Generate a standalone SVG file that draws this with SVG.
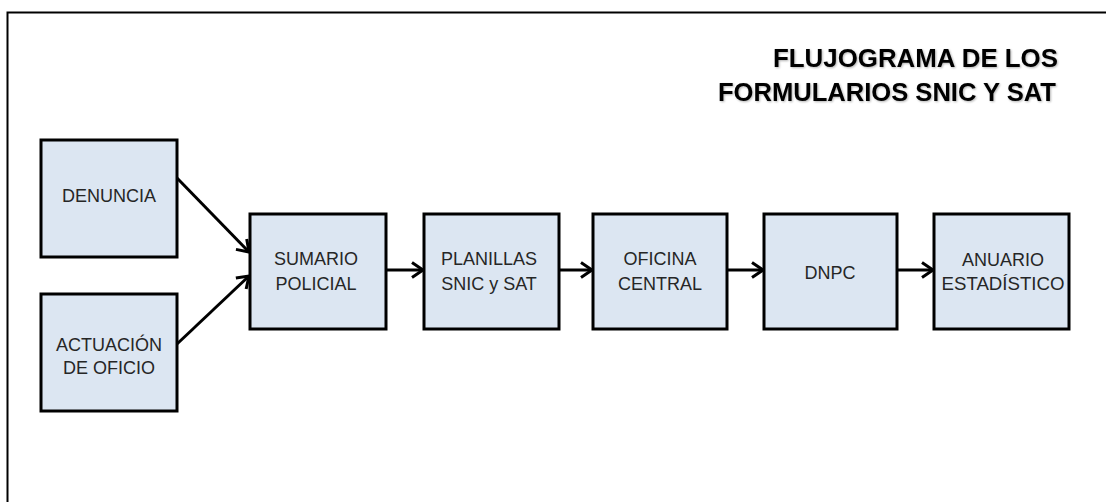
<svg xmlns="http://www.w3.org/2000/svg" width="1106" height="502" viewBox="0 0 1106 502">
<defs>
<style>
.box{fill:#dce6f2;stroke:#000;stroke-width:3}
.lbl{font-family:"Liberation Sans",Arial,sans-serif;font-size:18px;fill:#262626;text-anchor:middle}
.ttl{font-family:"Liberation Sans",Arial,sans-serif;font-size:25px;font-weight:bold;fill:#000;text-anchor:end}
.conn{stroke:#000;stroke-width:3;fill:none;marker-end:url(#arr)}
</style>
<marker id="arr" markerUnits="userSpaceOnUse" markerWidth="20" markerHeight="20" refX="12" refY="8" orient="auto" viewBox="0 0 20 16">
<path d="M1,0.5 L12,8 L1,15.5" fill="none" stroke="#000" stroke-width="3"/>
</marker>
<filter id="sh" x="-5%" y="-20%" width="110%" height="140%">
<feGaussianBlur in="SourceAlpha" stdDeviation="1"/>
<feOffset dx="1" dy="1" result="o"/>
<feComponentTransfer><feFuncA type="linear" slope="0.3"/></feComponentTransfer>
<feMerge><feMergeNode/><feMergeNode in="SourceGraphic"/></feMerge>
</filter>
</defs>
<rect x="0" y="0" width="1106" height="502" fill="#fff"/>
<path d="M7.5,502 L7.5,12.5 L1106,12.5" fill="none" stroke="#000" stroke-width="2"/>
<g id="title" filter="url(#sh)">
<text class="ttl" x="1058" y="67" textLength="285" lengthAdjust="spacingAndGlyphs">FLUJOGRAMA DE LOS</text>
<text class="ttl" x="1056" y="101" textLength="338" lengthAdjust="spacingAndGlyphs">FORMULARIOS SNIC Y SAT</text>
</g>
<g id="connectors">
<line class="conn" x1="177" y1="178" x2="249" y2="252"/>
<line class="conn" x1="177" y1="344" x2="249" y2="276"/>
<line class="conn" x1="386" y1="270" x2="423" y2="270"/>
<line class="conn" x1="559" y1="270" x2="592" y2="270"/>
<line class="conn" x1="727" y1="270" x2="763" y2="270"/>
<line class="conn" x1="897" y1="270" x2="933" y2="270"/>
</g>
<g id="denuncia">
<rect class="box" x="41" y="140" width="136" height="117"/>
<text class="lbl" x="109" y="202">DENUNCIA</text>
</g>
<g id="actuacion">
<rect class="box" x="41" y="294" width="136" height="117"/>
<text class="lbl" x="109" y="351">ACTUACIÓN</text>
<text class="lbl" x="109" y="374">DE OFICIO</text>
</g>
<g id="sumario">
<rect class="box" x="250" y="214" width="136" height="115"/>
<text class="lbl" x="316" y="265">SUMARIO</text>
<text class="lbl" x="316" y="290">POLICIAL</text>
</g>
<g id="planillas">
<rect class="box" x="424" y="214" width="135" height="115"/>
<text class="lbl" x="489" y="265">PLANILLAS</text>
<text class="lbl" x="489" y="290">SNIC y SAT</text>
</g>
<g id="oficina">
<rect class="box" x="593" y="214" width="134" height="115"/>
<text class="lbl" x="660" y="265">OFICINA</text>
<text class="lbl" x="660" y="290">CENTRAL</text>
</g>
<g id="dnpc">
<rect class="box" x="764" y="214" width="133" height="115"/>
<text class="lbl" x="830" y="279">DNPC</text>
</g>
<g id="anuario">
<rect class="box" x="934" y="214" width="135" height="115"/>
<text class="lbl" x="1003" y="266">ANUARIO</text>
<text class="lbl" x="1003" y="290" textLength="123" lengthAdjust="spacingAndGlyphs">ESTADÍSTICO</text>
</g>
</svg>
